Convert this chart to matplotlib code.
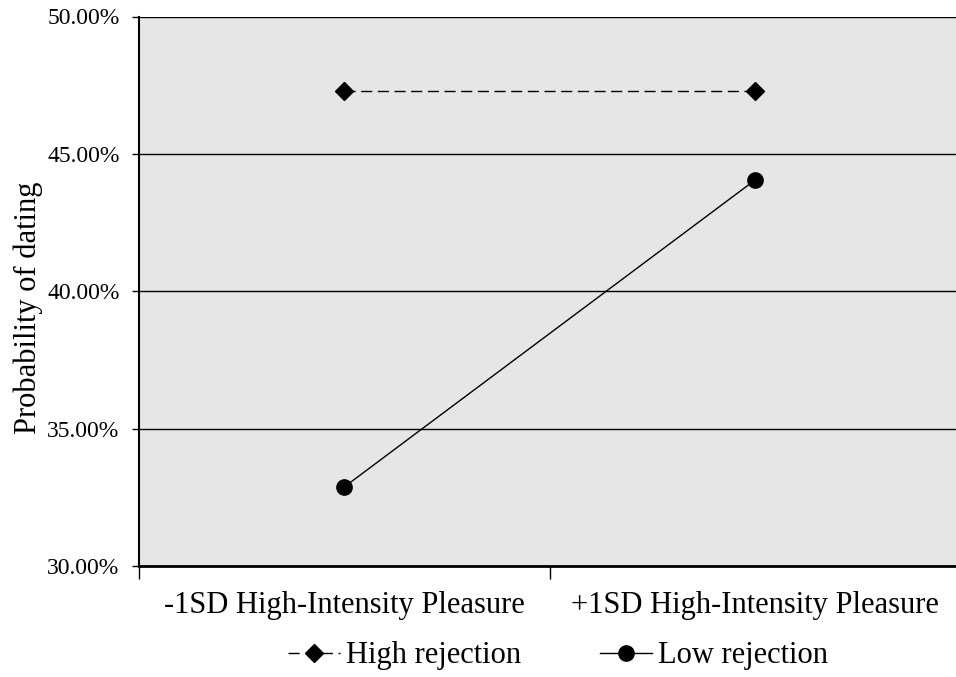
import matplotlib
matplotlib.use('Agg')
import matplotlib.pyplot as plt
from matplotlib.ticker import FuncFormatter, FixedLocator

# data
categories = ['-1SD High-Intensity Pleasure', '+1SD High-Intensity Pleasure']
high_rejection = [47.29, 47.29]
low_rejection = [32.88, 44.05]
yticks = [30, 35, 40, 45, 50]

plt.rcParams['font.family'] = ['Liberation Serif', 'DejaVu Serif']

fig = plt.figure(figsize=(9.56, 6.77), dpi=100)
ax = fig.add_axes([139 / 956, 1 - 566 / 677, (960.5 - 139) / 956, (566 - 16.5) / 677])
ax.set_facecolor('#e6e6e6')

x = list(range(len(categories)))
ax.plot(x, high_rejection, color='black', lw=1, ls=(0, (8, 4)), marker='D',
        ms=9.5, label='High rejection')
ax.plot(x, low_rejection, color='black', lw=1, marker='o', ms=11,
        label='Low rejection')

ax.set_xlim(-0.5, len(categories) - 0.5)
ax.set_ylim(30, 50)
ax.set_yticks(yticks)
ax.yaxis.set_major_formatter(FuncFormatter(lambda v, p: '{:.2f}%'.format(v)))
ax.grid(axis='y', color='black', lw=1)
ax.set_axisbelow(True)

# ticks sit between categories, labels sit at the category centres
ax.xaxis.set_major_locator(FixedLocator([-0.5, 0.5, 1.5]))
ax.xaxis.set_major_formatter(FuncFormatter(lambda v, p: ''))
ax.xaxis.set_minor_locator(FixedLocator(x))
ax.set_xticklabels(categories, minor=True)
ax.tick_params(axis='x', which='minor', length=0, labelsize=22, pad=18)
ax.tick_params(axis='x', which='major', length=9, width=1, direction='out')
ax.tick_params(axis='y', length=5, width=1, labelsize=17, pad=9)

ax.spines['right'].set_visible(False)
ax.spines['top'].set_visible(False)
ax.spines['left'].set_linewidth(1.5)
ax.spines['bottom'].set_linewidth(2)

ax.set_ylabel('Probability of dating', fontsize=22)
ax.yaxis.set_label_coords(-(139 - 43) / (960.5 - 139), (566 - 308) / (566 - 16.5))

leg = fig.legend(loc='center', bbox_to_anchor=(558 / 956, 1 - 656 / 677),
                 ncol=2, frameon=False, fontsize=22, handlelength=1.7,
                 handletextpad=0.2, columnspacing=2.6)

fig.savefig('out.png', dpi=100)
